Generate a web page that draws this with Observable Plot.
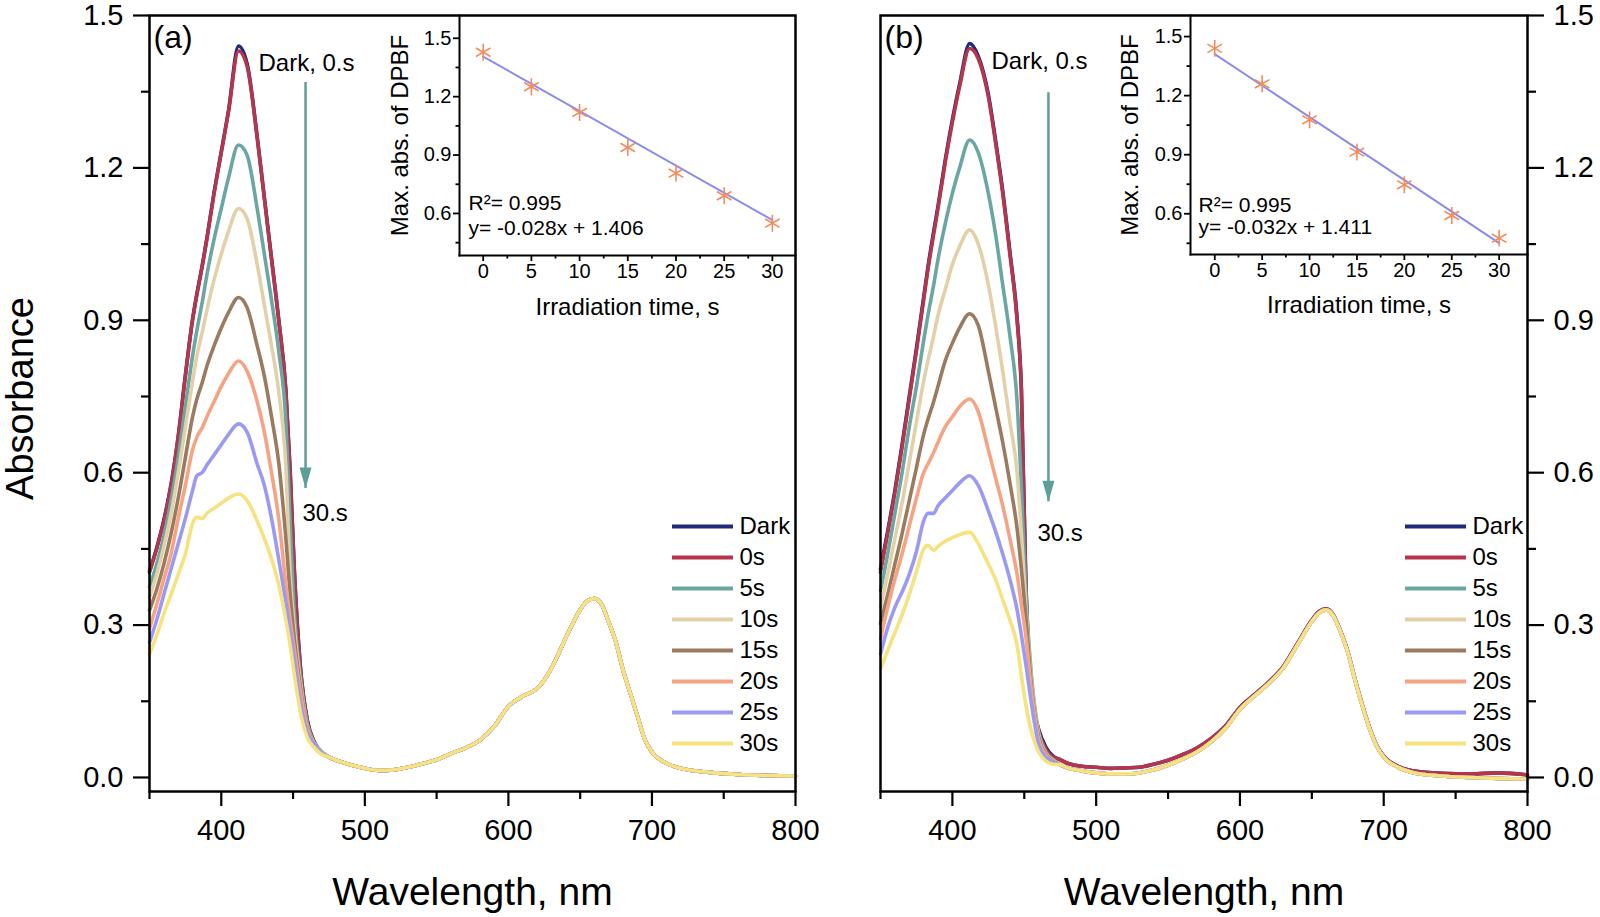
<!DOCTYPE html>
<html>
<head>
<meta charset="utf-8">
<script src="https://cdn.jsdelivr.net/npm/d3@7"></script>
<script src="https://cdn.jsdelivr.net/npm/@observablehq/plot@0.6"></script>
<style>
  html, body { margin: 0; padding: 0; background: #fff; }
  #root { position: relative; width: 1600px; height: 917px; background: #fff; overflow: hidden; }
  #root svg { position: absolute; }
</style>
</head>
<body>
<div id="root"></div>
<script>
// ---------- data ----------
const seriesNames = ["Dark", "0s", "5s", "10s", "15s", "20s", "25s", "30s"];
const seriesColors = ["#1f2a7a", "#b5364c", "#6aa6a2", "#e3d0a8", "#9b7b5f", "#f6a384", "#9a9af5", "#f6e27f"];

// Soret region wavelengths (nm)
const wlSoret = [350, 355, 360, 365, 370, 375, 380, 383, 387, 390, 395, 400, 405, 412, 418, 425, 430, 435, 440, 445, 448, 451, 455, 460, 465, 470];
// Q-band / tail wavelengths (nm)
const wlTail = [475, 480, 490, 500, 510, 520, 530, 540, 550, 560, 570, 580, 590, 600, 610, 620, 630, 640, 650, 655, 660, 665, 670, 675, 680, 685, 690, 695, 700, 710, 720, 740, 760, 780, 800];

// Panel (a)
const a_dark = [.406, .452, .507, .577, .672, .792, .902, .952, 1.012, 1.062, 1.152, 1.232, 1.312, 1.44, 1.405, 1.262, 1.142, 1.022, .902, .762, .602, .402, .222, .112, .069, .05];
const a_0s   = [.404, .45, .505, .575, .67, .79, .90, .95, 1.01, 1.06, 1.15, 1.23, 1.31, 1.43, 1.40, 1.26, 1.14, 1.02, .90, .76, .60, .40, .22, .11, .068, .05];
const a_5s   = [.375, .42, .475, .545, .63, .73, .83, .88, .94, .99, 1.06, 1.12, 1.18, 1.245, 1.225, 1.12, 1.03, .94, .84, .70, .50, .32, .20, .105, .067, .05];
const a_10s  = [.355, .40, .455, .52, .60, .69, .78, .83, .88, .92, .98, 1.03, 1.075, 1.12, 1.10, 1.01, .93, .85, .76, .61, .40, .29, .19, .10, .066, .05];
const a_15s  = [.329, .37, .42, .48, .55, .63, .71, .745, .78, .81, .85, .885, .915, .945, .925, .85, .79, .71, .62, .47, .36, .27, .18, .098, .064, .048];
const a_20s  = [.293, .34, .39, .44, .51, .575, .645, .67, .69, .71, .74, .77, .795, .82, .80, .74, .68, .60, .51, .38, .31, .25, .17, .095, .063, .048];
const a_25s  = [.266, .31, .36, .41, .46, .51, .565, .594, .601, .615, .635, .655, .675, .696, .68, .617, .575, .51, .43, .345, .29, .23, .15, .088, .064, .048];
const a_30s  = [.243, .28, .322, .36, .40, .44, .50, .512, .51, .52, .53, .54, .55, .558, .545, .505, .47, .43, .38, .31, .26, .20, .13, .078, .058, .045];
const a_tail = [.04, .034, .025, .018, .014, .015, .02, .027, .035, .047, .058, .073, .10, .14, .16, .175, .215, .275, .33, .348, .352, .34, .305, .265, .21, .165, .12, .075, .05, .028, .018, .01, .006, .004, .003];

// Panel (b)
const b_dark = [.41, .485, .565, .655, .75, .845, .945, 1.005, 1.075, 1.125, 1.215, 1.295, 1.365, 1.445, 1.42, 1.345, 1.255, 1.155, 1.035, .905, .765, .395, .165, .095, .06, .042];
const b_0s   = [.404, .48, .56, .65, .745, .84, .94, 1.0, 1.07, 1.12, 1.21, 1.29, 1.36, 1.435, 1.415, 1.34, 1.25, 1.15, 1.03, .90, .76, .39, .16, .09, .056, .04];
const b_5s   = [.368, .44, .52, .60, .69, .77, .86, .91, .97, 1.02, 1.09, 1.15, 1.20, 1.255, 1.23, 1.15, 1.07, .97, .87, .74, .57, .37, .20, .09, .05, .035];
const b_10s  = [.335, .40, .47, .54, .62, .70, .78, .82, .87, .91, .96, 1.01, 1.045, 1.078, 1.05, .97, .89, .80, .70, .60, .48, .34, .19, .085, .048, .034];
const b_15s  = [.303, .36, .42, .48, .545, .61, .675, .705, .74, .77, .82, .855, .885, .913, .89, .80, .73, .66, .58, .49, .41, .32, .18, .08, .046, .032];
const b_20s  = [.273, .335, .39, .44, .495, .55, .60, .617, .64, .66, .69, .71, .73, .745, .72, .645, .59, .535, .47, .40, .34, .28, .17, .075, .044, .031];
const b_25s  = [.243, .295, .335, .365, .40, .445, .505, .52, .52, .535, .55, .565, .58, .594, .575, .525, .485, .44, .39, .33, .28, .225, .145, .065, .04, .03];
const b_30s  = [.214, .25, .285, .32, .36, .405, .45, .457, .447, .455, .465, .472, .478, .483, .46, .42, .39, .35, .31, .26, .20, .145, .09, .05, .032, .026];
const b_tailHigh = [.035, .028, .022, .02, .018, .019, .02, .026, .034, .045, .058, .077, .102, .138, .163, .188, .218, .264, .31, .327, .332, .32, .288, .248, .194, .144, .099, .064, .042, .022, .013, .008, .007, .009, .005];
const b_tailLow  = [.025, .019, .013, .009, .007, .007, .009, .015, .024, .036, .05, .07, .097, .134, .16, .185, .215, .261, .307, .324, .33, .318, .286, .246, .192, .142, .097, .062, .04, .02, .01, .003, .0, -.002, -.003];

// Insets: max absorbance of DPBF vs irradiation time
const timeS = [0, 5, 10, 15, 20, 25, 30];
const insetA = [1.428, 1.251, 1.119, 0.939, 0.807, 0.691, 0.550];
const insetB = [1.44, 1.26, 1.077, 0.913, 0.747, 0.591, 0.476];
const fitA = [-0.028, 1.406];   // slope, intercept
const fitB = [-0.032, 1.411];

// Tick values
const mainXTicks = [400, 500, 600, 700, 800];
const mainXMinor = [350, 450, 550, 650, 750];
const mainYTicks = [0, 0.3, 0.6, 0.9, 1.2, 1.5];
const mainYMinor = [0.15, 0.45, 0.75, 1.05, 1.35];
const insetXTicks = [0, 5, 10, 15, 20, 25, 30];
const insetXMinor = [2.5, 7.5, 12.5, 17.5, 22.5, 27.5];
const insetYTicks = [0.6, 0.9, 1.2, 1.5];
const insetYMinor = [0.45, 0.75, 1.05, 1.35];

// ---------- build ----------
const FONT = "'Liberation Sans', Arial, Helvetica, sans-serif";
const root = document.getElementById("root");

function buildRows(soret, tails) {
  return seriesNames.flatMap((s, i) => [
    ...wlSoret.map((w, j) => ({series: s, wl: w, abs: soret[i][j]})),
    ...wlTail.map((w, j) => ({series: s, wl: w, abs: tails[i][j]}))
  ]);
}
const rowsA = buildRows([a_dark, a_0s, a_5s, a_10s, a_15s, a_20s, a_25s, a_30s],
                        seriesNames.map(() => a_tail));
const rowsB = buildRows([b_dark, b_0s, b_5s, b_10s, b_15s, b_20s, b_25s, b_30s],
                        [b_tailHigh, b_tailHigh, b_tailLow, b_tailLow, b_tailLow, b_tailLow, b_tailLow, b_tailLow]);

const arrowHead = {
  draw(ctx) {
    ctx.moveTo(-6, -21);
    ctx.lineTo(6, -21);
    ctx.lineTo(0, 0);
    ctx.closePath();
  }
};

function place(svg, left, top) {
  svg.style.left = left + "px";
  svg.style.top = top + "px";
  root.appendChild(svg);
}

function mainPanel({rows, left, mLeft, mRight, yAnchor, tag, arrow, t1, t2}) {
  const svg = Plot.plot({
    width: 800, height: 917,
    marginLeft: mLeft, marginRight: mRight, marginTop: 15, marginBottom: 126,
    x: {domain: [350, 800]},
    y: {domain: [-0.0276, 1.5]},
    color: {domain: seriesNames, range: seriesColors},
    style: {background: "transparent", color: "black", fontFamily: FONT, overflow: "visible"},
    marks: [
      Plot.line(rows, {x: "wl", y: "abs", z: "series", stroke: "series", strokeWidth: 3.6, curve: "monotone-x"}),
      Plot.frame({strokeWidth: 2.5}),
      Plot.axisX({ticks: mainXTicks, tickSize: 15, tickPadding: 13, fontSize: 29, strokeWidth: 2.2, label: null}),
      Plot.axisX({ticks: mainXMinor, tickSize: 8, text: null, strokeWidth: 2.2, label: null}),
      Plot.axisY({anchor: yAnchor, ticks: mainYTicks, tickFormat: d3.format(".1f"), tickSize: 16, tickPadding: 10, fontSize: 29, strokeWidth: 2.2, label: null}),
      Plot.axisY({anchor: yAnchor, ticks: mainYMinor, tickSize: 8, text: null, strokeWidth: 2.2, label: null}),
      Plot.ruleX([arrow], {x: "x", y1: "y1", y2: "y2", stroke: "#5f9e98", strokeWidth: 2.5}),
      Plot.dot([arrow], {x: "x", y: "y2", symbol: arrowHead, fill: "#5f9e98", stroke: "none", r: 10}),
      Plot.text([tag], {frameAnchor: "top-left", dx: 4, dy: 10, lineAnchor: "top", textAnchor: "start", fontSize: 32}),
      Plot.text(["Dark, 0.s"], {frameAnchor: "top-left", dx: t1[0], dy: t1[1], lineAnchor: "middle", textAnchor: "start", fontSize: 24}),
      Plot.text(["30.s"], {frameAnchor: "top-left", dx: t2[0], dy: t2[1], lineAnchor: "middle", textAnchor: "start", fontSize: 24}),
      Plot.text(["Wavelength, nm"], {frameAnchor: "bottom", dy: 101, lineAnchor: "middle", textAnchor: "middle", fontSize: 39}),
      ...(yAnchor === "left"
        ? [Plot.text(["Absorbance"], {frameAnchor: "left", dx: -129, dy: -5, rotate: -90, lineAnchor: "middle", textAnchor: "middle", fontSize: 38})]
        : [])
    ]
  });
  place(svg, left, 0);
}

function legendPanel(left) {
  const svg = Plot.plot({
    width: 140, height: 270,
    marginLeft: 12, marginRight: 67, marginTop: 24, marginBottom: 25,
    x: {domain: [0, 1], axis: null},
    y: {type: "point", domain: seriesNames, padding: 0, axis: null},
    color: {domain: seriesNames, range: seriesColors},
    style: {background: "transparent", color: "black", fontFamily: FONT, overflow: "visible"},
    marks: [
      Plot.ruleY(seriesNames, {y: d => d, x1: 0, x2: 1, stroke: d => d, strokeWidth: 4}),
      Plot.text(seriesNames, {y: d => d, x: 1, dx: 6, text: d => d, textAnchor: "start", lineAnchor: "middle", fontSize: 24})
    ]
  });
  place(svg, left, 500);
}

function insetPanel({left, mLeft, mRight, mBottom, xDomain, yDomain, values, fit, r2Pos, labelDx, xLabelDy}) {
  const pts = timeS.map((t, i) => ({t, v: values[i]}));
  const fitPts = [timeS[0], timeS[timeS.length - 1]].map(t => ({t, v: fit[0] * t + fit[1]}));
  const eq = `y= ${fit[0].toFixed(3)}x + ${fit[1].toFixed(3)}`;
  const svg = Plot.plot({
    width: 800, height: 330,
    marginLeft: mLeft, marginRight: mRight, marginTop: 15, marginBottom: mBottom,
    x: {domain: xDomain},
    y: {domain: yDomain},
    style: {background: "transparent", color: "black", fontFamily: FONT, overflow: "visible"},
    marks: [
      Plot.line(fitPts, {x: "t", y: "v", stroke: "#8b8bef", strokeWidth: 2}),
      Plot.dot(pts, {x: "t", y: "v", symbol: "asterisk", r: 8, stroke: "#f28b5e", strokeWidth: 1.6}),
      Plot.frame({anchor: "left", strokeWidth: 2}),
      Plot.frame({anchor: "bottom", strokeWidth: 2}),
      Plot.axisX({ticks: insetXTicks, tickSize: 6, tickPadding: 2, fontSize: 20, strokeWidth: 1.8, label: null}),
      Plot.axisX({ticks: insetXMinor, tickSize: 3.5, text: null, strokeWidth: 1.8, label: null}),
      Plot.axisY({ticks: insetYTicks, tickFormat: d3.format(".1f"), tickSize: 6, tickPadding: 2, fontSize: 20, strokeWidth: 1.8, label: null}),
      Plot.axisY({ticks: insetYMinor, tickSize: 3.5, text: null, strokeWidth: 1.8, label: null}),
      Plot.text(["R²= 0.995"], {frameAnchor: "top-left", dx: r2Pos[0], dy: r2Pos[1], lineAnchor: "middle", textAnchor: "start", fontSize: 21}),
      Plot.text([eq], {frameAnchor: "top-left", dx: r2Pos[0], dy: r2Pos[2], lineAnchor: "middle", textAnchor: "start", fontSize: 21}),
      Plot.text(["Max. abs. of DPBF"], {frameAnchor: "left", dx: labelDx, rotate: -90, lineAnchor: "middle", textAnchor: "middle", fontSize: 24}),
      Plot.text(["Irradiation time, s"], {frameAnchor: "bottom", dy: xLabelDy, lineAnchor: "middle", textAnchor: "middle", fontSize: 24})
    ]
  });
  place(svg, left, 0);
}

mainPanel({rows: rowsA, left: 0, mLeft: 149, mRight: 5, yAnchor: "left", tag: "(a)",
  arrow: {x: 458.7, y1: 1.368, y2: 0.569}, t1: [109, 48], t2: [153, 498]});
mainPanel({rows: rowsB, left: 800, mLeft: 80, mRight: 73, yAnchor: "right", tag: "(b)",
  arrow: {x: 466.8, y1: 1.348, y2: 0.543}, t1: [111, 46], t2: [157, 518]});

insetPanel({left: 0, mLeft: 459, mRight: 5, mBottom: 75, xDomain: [-2.46, 32.4], yDomain: [0.384, 1.617],
  values: insetA, fit: fitA, r2Pos: [9, 188, 213], labelDx: -59, xLabelDy: 52});
insetPanel({left: 800, mLeft: 390, mRight: 73, mBottom: 76, xDomain: [-2.56, 32.99], yDomain: [0.393, 1.607],
  values: insetB, fit: fitB, r2Pos: [8, 190, 212], labelDx: -60, xLabelDy: 51});

legendPanel(660);
legendPanel(1393);
</script>
</body>
</html>
